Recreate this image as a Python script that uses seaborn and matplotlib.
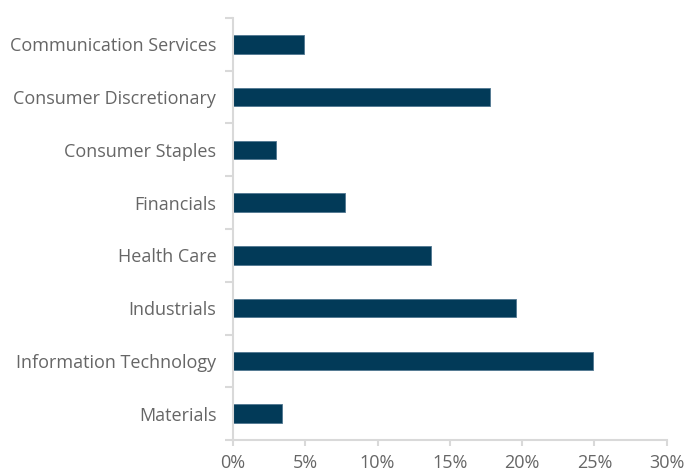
import matplotlib
matplotlib.use("Agg")
import matplotlib.pyplot as plt
import seaborn as sns
import pandas as pd
import numpy as np
from matplotlib.ticker import FixedLocator, PercentFormatter

# Sektory a váhy (v %)
sectors = [
    "Communication Services",
    "Consumer Discretionary",
    "Consumer Staples",
    "Financials",
    "Health Care",
    "Industrials",
    "Information Technology",
    "Materials",
]
weights = [4.9, 17.8, 3.0, 7.75, 13.7, 19.6, 24.9, 3.4]
x_ticks = [0, 5, 10, 15, 20, 25, 30]

df = pd.DataFrame({"sector": sectors, "weight": weights})

sns.set_theme(style="white")
plt.rcParams["font.family"] = ["Open Sans", "DejaVu Sans"]

text_color = "#666666"
axis_color = "#d9d9d9"

fig = plt.figure(figsize=(6.86, 4.71), dpi=100)
ax = fig.add_axes([0.3397, 0.0658, 0.6320, 0.8960])

sns.barplot(data=df, x="weight", y="sector", orient="h", color="#023a58",
            saturation=1, width=0.35, edgecolor="#4f7690", linewidth=0.6, ax=ax)

ax.set_xlim(0, 30)
ax.set_ylim(len(sectors) - 0.5, -0.5)
ax.set_xticks(x_ticks)
ax.xaxis.set_major_formatter(PercentFormatter(decimals=0))
ax.set_xlabel("")
ax.set_ylabel("")

# Spines
for side in ["top", "right"]:
    ax.spines[side].set_visible(False)
for side in ["left", "bottom"]:
    ax.spines[side].set_visible(True)
    ax.spines[side].set_color(axis_color)
    ax.spines[side].set_linewidth(1.5)

# Ticky mezi kategoriemi
ax.yaxis.set_minor_locator(FixedLocator(np.arange(-0.5, len(sectors), 1.0)))
ax.tick_params(axis="y", which="major", length=0, pad=12, labelsize=13, labelcolor=text_color)
ax.tick_params(axis="y", which="minor", length=6, width=1.5, color=axis_color, direction="out", left=True)
ax.tick_params(axis="x", which="major", length=4, width=1.5, color=axis_color, direction="out",
               bottom=True, pad=6, labelsize=13, labelcolor=text_color)

fig.savefig("out.png", dpi=100)
